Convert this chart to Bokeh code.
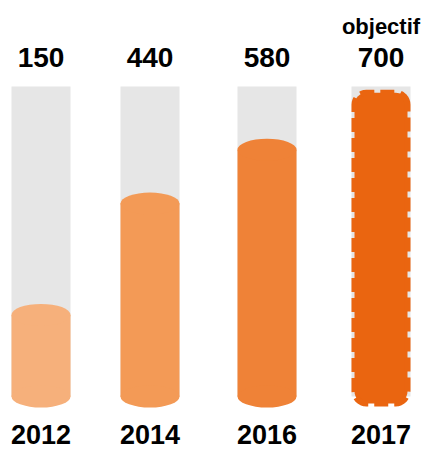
import math
from bokeh.plotting import figure
from bokeh.models import Range1d
from bokeh.core.properties import value
from bokeh.embed import file_html
from bokeh.resources import INLINE

# ---- data ----
years = ["2012", "2014", "2016", "2017"]
values = [150, 440, 580, 700]
value_labels = ["150", "440", "580", "700"]
target_note = "objectif"

# ---- layout / style constants ----
W, H = 427, 450
OFF = 0                # page offset of the figure
centers = [40.5, 149.5, 266.5, 380.5]     # column centres (x, page px)
col_w = 59
colors = ["#F6B07B", "#F39A56", "#EF8237", "#EA6510"]
grey = "#E6E6E6"
SCALE = 0.384          # px per unit
ZERO_PX = 361          # page y of value 0
TUBE_TOP_PX = 86
BOTTOM_PX = 396        # centre of bottom ellipse
CAP_PX = 11            # half height of ellipse caps
FONT = "Liberation Sans"
TXT_SHIFT = 10         # renderer baseline correction (px)

ymax = (ZERO_PX - OFF) / SCALE
ymin = ymax - H / SCALE


def dy(px):
    """page pixel y -> data y"""
    return (ZERO_PX - px) / SCALE


p = figure(width=W, height=H, x_range=Range1d(OFF, OFF + W), y_range=Range1d(ymin, ymax),
           output_backend="svg", toolbar_location=None, min_border=0,
           x_axis_location=None, y_axis_location=None)
p.grid.visible = False
p.outline_line_color = None
p.background_fill_color = "white"
p.border_fill_color = "white"

# grey tubes
p.vbar(x=centers, width=col_w, top=dy(TUBE_TOP_PX), bottom=dy(BOTTOM_PX),
       fill_color=grey, line_color=None)

cap = CAP_PX / SCALE
# cylinders for achieved years
n = len(values) - 1
cx = centers[:n]
tops = [v - cap for v in values[:n]]
p.vbar(x=cx, width=col_w, top=tops, bottom=dy(BOTTOM_PX),
       fill_color=colors[:n], line_color=None)
p.ellipse(x=cx, y=[dy(BOTTOM_PX)] * n, width=col_w, height=2 * CAP_PX,
          height_units="screen", fill_color=colors[:n], line_color=None)
p.ellipse(x=cx, y=tops, width=col_w, height=2 * CAP_PX,
          height_units="screen", fill_color=colors[:n], line_color=None)

# target: dashed rounded rectangle
tx = centers[-1]
half = 26.5
r_x = 12
r_y = 12 / SCALE
top = values[-1]
bot = dy(403)
xl, xr = tx - half, tx + half
xs, ys = [], []


def arc(cxp, cyp, a0, a1):
    for k in range(9):
        a = math.radians(a0 + (a1 - a0) * k / 8)
        xs.append(cxp + r_x * math.cos(a))
        ys.append(cyp + r_y * math.sin(a))


arc(xr - r_x, top - r_y, 0, 90)
arc(xl + r_x, top - r_y, 90, 180)
arc(xl + r_x, bot + r_y, 180, 270)
arc(xr - r_x, bot + r_y, 270, 360)
p.patch(xs, ys, fill_color=colors[-1], line_color=colors[-1], line_width=6,
        line_dash="14 6")

# texts
p.text(x=centers, y=[dy(67 - TXT_SHIFT)] * 4, text=value_labels, text_align="center",
       text_baseline="alphabetic", text_font=value(FONT), text_font_style="bold",
       text_font_size="28px", text_color="black")
p.text(x=centers, y=[dy(444 - TXT_SHIFT)] * 4, text=years, text_align="center",
       text_baseline="alphabetic", text_font=value(FONT), text_font_style="bold",
       text_font_size="27px", text_color="black")
p.text(x=[centers[-1]], y=[dy(36 - TXT_SHIFT)], text=[target_note], text_align="center",
       text_baseline="alphabetic", text_font=value(FONT), text_font_style="bold",
       text_font_size="22px", text_color="black")

open("out.html", "w").write(file_html(p, INLINE))
